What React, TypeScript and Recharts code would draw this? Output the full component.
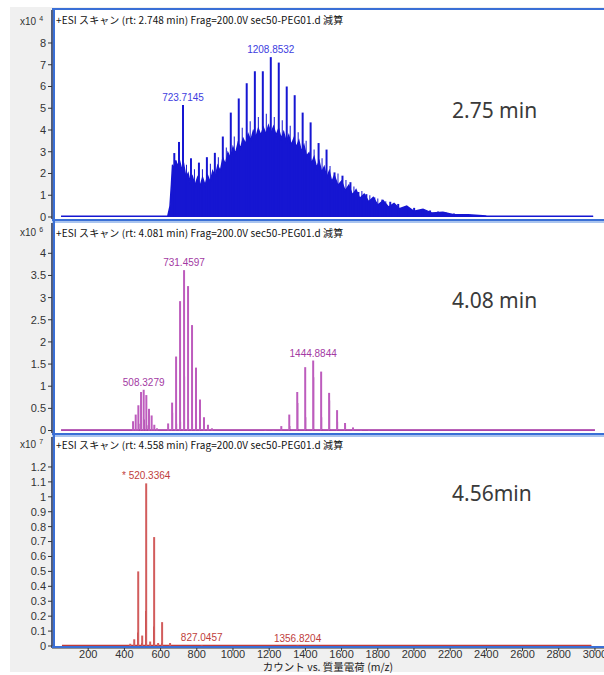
import React from "react";
import { ComposedChart, Bar, Area, XAxis, YAxis, LabelList } from "recharts";

// ---------- shared axis ----------
const MZ_DOMAIN: [number, number] = [0, 3050];
const X_TICKS = [200, 400, 600, 800, 1000, 1200, 1400, 1600, 1800, 2000, 2200, 2400, 2600, 2800, 3000];
const X_TITLE = "カウント vs. 質量電荷 (m/z)";

// ---------- panel 1 (x10^4) rt 2.748 ----------
const p1Header = "+ESI スキャン (rt: 2.748 min) Frag=200.0V sec50-PEG01.d 減算";
const p1Time = "2.75 min";
const p1Exp = "4";
const p1Ticks = [0, 1, 2, 3, 4, 5, 6, 7, 8];
const p1EnvMz = [50, 400, 640, 652, 660, 666, 674, 684, 694, 704, 716, 728, 740, 752, 764, 776, 790, 804, 818, 832, 846, 860, 874, 888, 902, 916, 930, 944, 958, 972, 986, 1000, 1014, 1028, 1042, 1056, 1070, 1084, 1098, 1112, 1126, 1140, 1154, 1168, 1182, 1196, 1210, 1224, 1238, 1252, 1266, 1280, 1294, 1308, 1322, 1336, 1350, 1364, 1378, 1392, 1406, 1420, 1434, 1448, 1462, 1476, 1490, 1504, 1518, 1532, 1546, 1560, 1580, 1600, 1620, 1640, 1660, 1680, 1700, 1725, 1750, 1775, 1800, 1830, 1860, 1890, 1920, 1960, 2000, 2050, 2100, 2160, 2220, 2300, 2400, 2600, 2990];
const p1EnvInt = [0.03, 0.03, 0.05, 0.5, 1.5, 2.4, 2.2, 2.6, 2.3, 2.6, 2.2, 2.4, 1.8, 2.0, 1.55, 1.85, 1.45, 1.8, 1.4, 1.8, 1.45, 1.9, 1.6, 2.1, 1.85, 2.35, 2.1, 2.7, 2.4, 2.95, 2.7, 3.2, 2.9, 3.4, 3.15, 3.6, 3.35, 3.8, 3.5, 3.95, 3.65, 4.05, 3.75, 4.1, 3.8, 4.2, 3.85, 4.15, 3.75, 4.05, 3.6, 3.9, 3.45, 3.75, 3.3, 3.6, 3.2, 3.5, 3.0, 3.3, 2.8, 2.95, 2.45, 2.75, 2.25, 2.55, 2.05, 2.3, 1.8, 2.1, 1.6, 1.9, 1.45, 1.65, 1.2, 1.45, 1.0, 1.25, 0.85, 1.05, 0.7, 0.9, 0.55, 0.75, 0.45, 0.62, 0.38, 0.5, 0.26, 0.36, 0.18, 0.22, 0.1, 0.1, 0.05, 0.03, 0.03];
const p1MajorMz = [675.7, 701.7, 723.71, 767.8, 811.8, 855.8, 899.8, 943.8, 987.8, 1031.8, 1075.8, 1120.8, 1164.8, 1208.85, 1252.9, 1296.9, 1340.9, 1384.9, 1428.9, 1472.9, 1516.9, 1560.9, 1604.9, 1648.9, 1692.9, 1736.9, 1780.9, 1824.9, 1868.9, 1912.9, 1956.9, 2000.9, 2044.9, 2088.9, 2132.9, 2176.9, 2220.9, 2264.9];
const p1MajorInt = [2.94, 3.45, 5.15, 2.7, 2.5, 2.75, 2.95, 3.7, 4.8, 5.45, 6.15, 6.7, 6.7, 7.35, 7.1, 6.0, 5.6, 4.8, 4.35, 3.4, 3.1, 2.05, 1.9, 1.6, 1.15, 1.05, 0.9, 0.8, 0.7, 0.6, 0.5, 0.42, 0.36, 0.3, 0.25, 0.2, 0.16, 0.12];
const p1MinorMz = [745.7, 789.8, 833.8, 877.8, 921.8, 965.8, 1009.8, 1053.8, 1097.8, 1142.8, 1186.8, 1230.9, 1274.9, 1318.9, 1362.9, 1406.9, 1450.9, 1494.9, 1538.9, 1582.9, 1626.9, 1670.9, 1714.9, 1758.9, 1802.9, 1846.9];
const p1MinorInt = [2.4, 2.2, 2.2, 2.45, 2.75, 3.2, 3.7, 4.1, 4.4, 4.6, 4.75, 4.6, 4.45, 4.2, 3.9, 3.5, 3.1, 2.7, 2.35, 2.0, 1.7, 1.4, 1.2, 1.0, 0.85, 0.72];
const p1LabelMz = [723.71, 1208.85];
const p1LabelText = ["723.7145", "1208.8532"];

// ---------- panel 2 (x10^6) rt 4.081 ----------
const p2Header = "+ESI スキャン (rt: 4.081 min) Frag=200.0V sec50-PEG01.d 減算";
const p2Time = "4.08 min";
const p2Exp = "6";
const p2Ticks = [0, 0.5, 1, 1.5, 2, 2.5, 3, 3.5, 4];
const p2LightMz = [449.7, 464.3, 479.0, 493.7, 508.33, 523.0, 537.7, 552.3, 567.0, 581.7, 643.4, 665.4, 687.4, 709.4, 731.46, 753.5, 775.5, 797.5, 819.5, 841.5, 863.5, 885.5, 1180.7, 1224.7, 1268.7, 1312.8, 1356.8, 1400.8, 1444.88, 1488.9, 1532.9, 1576.9, 1620.9, 1664.9, 1708.9, 1752.9];
const p2LightInt = [0.21, 0.36, 0.57, 0.87, 0.92, 0.8, 0.49, 0.34, 0.13, 0.05, 0.16, 0.63, 1.67, 2.92, 3.62, 3.26, 2.38, 1.42, 0.7, 0.3, 0.13, 0.05, 0.02, 0.02, 0.1, 0.36, 0.87, 1.43, 1.58, 1.33, 0.85, 0.46, 0.17, 0.07, 0.03, 0.02];
const p2DarkMz = [479.0, 493.7, 508.33, 523.0, 665.4, 687.4, 709.4, 731.46, 753.5, 775.5, 797.5, 819.5, 1312.8, 1356.8, 1400.8, 1444.88, 1488.9, 1532.9, 1576.9, 1620.9];
const p2DarkInt = [0.15, 0.3, 0.25, 0.12, 0.4, 0.15, 0.2, 1.22, 0.25, 0.15, 0.3, 0.12, 0.1, 0.62, 0.3, 1.2, 0.3, 0.68, 0.2, 0.12];
const p2NoiseMz = [50, 3000];
const p2NoiseInt = [0.012, 0.012];
const p2LabelMz = [508.33, 731.46, 1444.88];
const p2LabelText = ["508.3279", "731.4597", "1444.8844"];

// ---------- panel 3 (x10^7) rt 4.558 ----------
const p3Header = "+ESI スキャン (rt: 4.558 min) Frag=200.0V sec50-PEG01.d 減算";
const p3Time = "4.56min";
const p3Exp = "7";
const p3Ticks = [0, 0.1, 0.2, 0.3, 0.4, 0.5, 0.6, 0.7, 0.8, 0.9, 1, 1.1, 1.2];
const p3LightMz = [432.3, 454.3, 476.3, 498.3, 520.34, 542.3, 564.3, 586.3, 608.3, 652.3, 827.05, 1356.82];
const p3LightInt = [0.015, 0.045, 0.5, 0.07, 1.09, 0.03, 0.73, 0.02, 0.16, 0.02, 0.004, 0.003];
const p3DarkMz = [476.3, 498.3, 520.34, 564.3, 608.3];
const p3DarkInt = [0.09, 0.02, 0.235, 0.13, 0.02];
const p3NoiseMz = [55, 2980];
const p3NoiseInt = [0.004, 0.004];
const p3LabelMz = [520.34, 827.05, 1356.82];
const p3LabelText = ["* 520.3364", "827.0457", "1356.8204"];

// ---------- helpers ----------
type Row = { mz: number; [k: string]: any };
function mergeRows(parts: { key: string; mz: number[]; val: number[] }[], labelMz: number[], labelText: string[]): Row[] {
  const map = new Map<number, Row>();
  parts.forEach((p) =>
    p.mz.forEach((m, i) => {
      const r = map.get(m) || { mz: m };
      r[p.key] = p.val[i];
      map.set(m, r);
    })
  );
  labelMz.forEach((m, i) => {
    const r = map.get(m) || { mz: m };
    r.label = labelText[i];
    map.set(m, r);
  });
  return Array.from(map.values()).sort((a, b) => a.mz - b.mz);
}
const zip = (mz: number[], v: number[]) => mz.map((m, i) => ({ mz: m, v: v[i] }));

const BLUE = "#3a6fd6";
const LIGHTBLUE = "#a9c4ef";
const AXIS_FONT = "'Liberation Sans', Arial, sans-serif";
const CJK_FONT = "'Noto Sans CJK JP', 'Noto Sans', sans-serif";

type PanelProps = {
  top: number;
  height: number;
  domain: [number, number];
  ticks: number[];
  rows: Row[];
  env: { mz: number; v: number }[];
  envColor: string;
  lightKey: string;
  lightColor: string;
  lightSize: number;
  darkKey: string;
  darkColor: string;
  darkSize: number;
  labelColor: string;
  showX?: boolean;
};

function Panel(p: PanelProps) {
  const xH = p.showX ? 26 : 0;
  const bottomPad = p.showX ? 0 : 8;
  const renderLabel = (props: any) => {
    const { x, y, width, value } = props;
    if (!value) return null;
    return (
      <text x={x + width / 2} y={y - 4} textAnchor="middle" fontSize={10} fill={p.labelColor} fontFamily={AXIS_FONT}>
        {value}
      </text>
    );
  };
  const totalH = p.height + xH + bottomPad;
  return (
    <div style={{ position: "absolute", left: 0, top: p.top, width: 604, height: totalH }}>
      <ComposedChart width={604} height={totalH} data={p.rows} margin={{ top: 0, right: 0, bottom: bottomPad, left: 0 }}>
        <XAxis
          xAxisId="a"
          type="number"
          dataKey="mz"
          domain={MZ_DOMAIN}
          allowDataOverflow
          ticks={X_TICKS}
          interval={0}
          hide={!p.showX}
          height={xH || 0}
          tickSize={3}
          tickMargin={-1}
          axisLine={{ stroke: "#333" }}
          tickLine={{ stroke: "#333" }}
          tick={{ fontSize: 11, fill: "#333", fontFamily: AXIS_FONT }}
        />
        <XAxis xAxisId="b" type="number" dataKey="mz" domain={MZ_DOMAIN} allowDataOverflow hide />
        <XAxis xAxisId="c" type="number" dataKey="mz" domain={MZ_DOMAIN} allowDataOverflow hide />
        <YAxis
          type="number"
          domain={p.domain}
          allowDataOverflow
          ticks={p.ticks}
          interval={0}
          width={52}
          tickSize={4}
          tickMargin={2}
          axisLine={{ stroke: "#1d2b55", strokeWidth: 1.5 }}
          tickLine={{ stroke: "#333" }}
          tick={{ fontSize: 11, fill: "#333", fontFamily: AXIS_FONT }}
          tickFormatter={(v: number) => String(v)}
        />
        <Area
          xAxisId="c"
          data={p.env}
          dataKey="v"
          type="linear"
          stroke={p.envColor}
          strokeWidth={1.5}
          fill={p.envColor}
          fillOpacity={1}
          dot={false}
          activeDot={false}
          isAnimationActive={false}
        />
        <Bar xAxisId="b" dataKey={p.darkKey} fill={p.darkColor} barSize={p.darkSize} isAnimationActive={false} />
        <Bar xAxisId="a" dataKey={p.lightKey} fill={p.lightColor} barSize={p.lightSize} isAnimationActive={false}>
          <LabelList dataKey="label" content={renderLabel} />
        </Bar>
      </ComposedChart>
    </div>
  );
}

const p1Rows = mergeRows(
  [
    { key: "major", mz: p1MajorMz, val: p1MajorInt },
    { key: "minor", mz: p1MinorMz, val: p1MinorInt },
  ],
  p1LabelMz,
  p1LabelText
);
const p2Rows = mergeRows(
  [
    { key: "light", mz: p2LightMz, val: p2LightInt },
    { key: "dark", mz: p2DarkMz, val: p2DarkInt },
  ],
  p2LabelMz,
  p2LabelText
);
const p3Rows = mergeRows(
  [
    { key: "light", mz: p3LightMz, val: p3LightInt },
    { key: "dark", mz: p3DarkMz, val: p3DarkInt },
  ],
  p3LabelMz,
  p3LabelText
);

function Header({ top, text }: { top: number; text: string }) {
  return (
    <div style={{ position: "absolute", left: 56, top, fontSize: 10, lineHeight: "12px", fontFamily: CJK_FONT, color: "#111", whiteSpace: "nowrap", letterSpacing: 0.1 }}>
      {text}
    </div>
  );
}
function Exp({ top, exp }: { top: number; exp: string }) {
  return (
    <div style={{ position: "absolute", left: 20, top, fontSize: 10, lineHeight: "12px", fontFamily: AXIS_FONT, color: "#333", whiteSpace: "nowrap" }}>
      x10<span style={{ fontSize: 7, position: "relative", top: -4, marginLeft: 3 }}>{exp}</span>
    </div>
  );
}
function Time({ top, text }: { top: number; text: string }) {
  return (
    <div style={{ position: "absolute", left: 452, top, fontSize: 21, lineHeight: "26px", fontFamily: "'Noto Sans', sans-serif", color: "#3a3a3a", whiteSpace: "nowrap" }}>
      {text}
    </div>
  );
}
const hLine = (top: number, h: number, color: string) => (
  <div style={{ position: "absolute", left: 52, top, width: 552, height: h, background: color }} />
);

export default function App() {
  return (
    <div style={{ position: "absolute", left: 0, top: 0, width: 604, height: 675, overflow: "hidden", background: "#fff" }}>
      <div style={{ position: "absolute", left: 10, top: 7, width: 594, height: 665, background: "#f0f0f0" }} />
      <div style={{ position: "absolute", left: 52, top: 8, width: 552, height: 640, background: "#fff" }} />

      <Panel
        top={10}
        height={209}
        domain={[-0.092, 9.517]}
        ticks={p1Ticks}
        rows={p1Rows}
        env={zip(p1EnvMz, p1EnvInt)}
        envColor="#1616d2"
        lightKey="major"
        lightColor="#1616d2"
        lightSize={2}
        darkKey="minor"
        darkColor="#1616d2"
        darkSize={1}
        labelColor="#3d3de0"
      />
      <Panel
        top={223}
        height={210}
        domain={[-0.056, 4.684]}
        ticks={p2Ticks}
        rows={p2Rows}
        env={zip(p2NoiseMz, p2NoiseInt)}
        envColor="#a02ca0"
        lightKey="light"
        lightColor="#bd5cbd"
        lightSize={2}
        darkKey="dark"
        darkColor="#7d107d"
        darkSize={1}
        labelColor="#a33aa3"
      />
      <Panel
        top={437}
        height={211}
        domain={[-0.0134, 1.4008]}
        ticks={p3Ticks}
        rows={p3Rows}
        env={zip(p3NoiseMz, p3NoiseInt)}
        envColor="#c03a3a"
        lightKey="light"
        lightColor="#d25c5c"
        lightSize={2}
        darkKey="dark"
        darkColor="#a81818"
        darkSize={1}
        labelColor="#c0403c"
        showX
      />

      {hLine(8, 2, BLUE)}
      {hLine(219, 2, BLUE)}
      {hLine(221, 2, LIGHTBLUE)}
      {hLine(433, 2, BLUE)}
      {hLine(435, 2, LIGHTBLUE)}
      {hLine(646, 2, BLUE)}
      <div style={{ position: "absolute", left: 53, top: 8, width: 2, height: 640, background: BLUE }} />

      <Header top={14} text={p1Header} />
      <Header top={227} text={p2Header} />
      <Header top={439} text={p3Header} />
      <Exp top={16} exp={p1Exp} />
      <Exp top={227} exp={p2Exp} />
      <Exp top={439} exp={p3Exp} />
      <Time top={97} text={p1Time} />
      <Time top={287} text={p2Time} />
      <Time top={480} text={p3Time} />

      <div style={{ position: "absolute", left: 0, width: 656, textAlign: "center", top: 661, fontSize: 10.5, lineHeight: "12px", fontFamily: CJK_FONT, color: "#222", whiteSpace: "nowrap" }}>
        {X_TITLE}
      </div>
    </div>
  );
}
